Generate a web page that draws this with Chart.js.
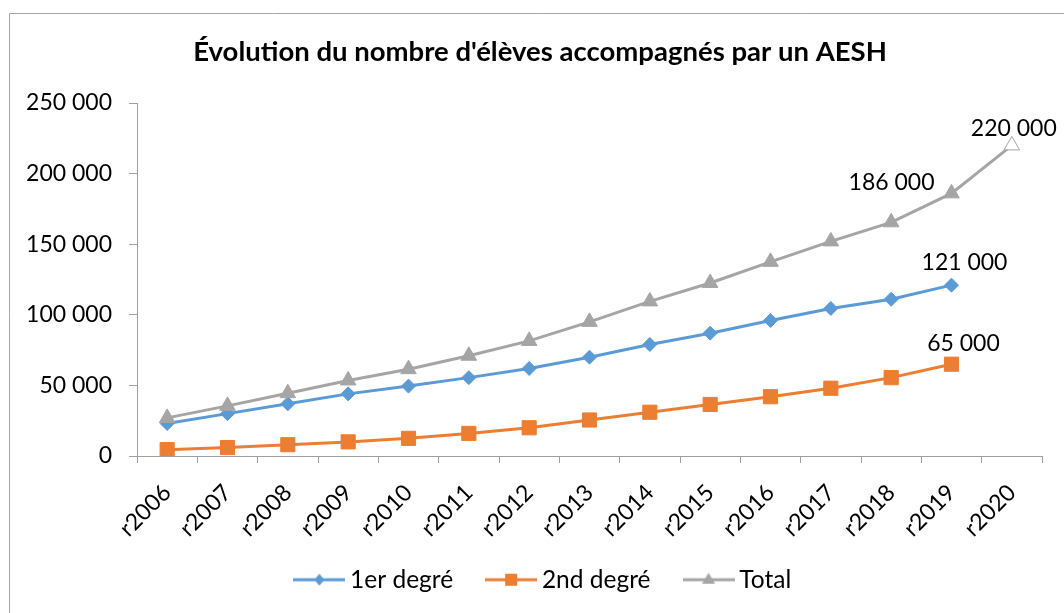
<!DOCTYPE html>
<html>
<head>
<meta charset="utf-8">
<title>Évolution du nombre d'élèves accompagnés par un AESH</title>
<script src="https://cdn.jsdelivr.net/npm/chart.js"></script>
<style>
    html, body { margin: 0; padding: 0; background: #fff; }
    #wrap { position: relative; width: 1064px; height: 613px; }
</style>
</head>
<body>
<div id="wrap"><canvas id="aeshChart" width="1064" height="613"></canvas></div>
<script>
// Data
const years = ['r2006', 'r2007', 'r2008', 'r2009', 'r2010', 'r2011', 'r2012', 'r2013',
               'r2014', 'r2015', 'r2016', 'r2017', 'r2018', 'r2019', 'r2020'];
const premierDegre = [23000, 30000, 37000, 44000, 49500, 55500, 62000, 70000,
                      79000, 87000, 96000, 104500, 111000, 121000, null];
const secondDegre = [4500, 6000, 8000, 10000, 12500, 16000, 20000, 25500,
                     31000, 36500, 42000, 48000, 55500, 65000, null];
const total = [27000, 35500, 44500, 53500, 61500, 71000, 81500, 95000,
               109500, 122500, 137500, 152000, 165500, 186000, 220000];
const yTicks = [0, 50000, 100000, 150000, 200000, 250000];

const BLUE = '#5B9BD5';
const ORANGE = '#ED7D31';
const GREY = '#A5A5A5';
const AXIS = '#A0A0A0';
const FONT = 'Lato, "Open Sans", sans-serif';

function fmt(v) {
    return String(v).replace(/\B(?=(\d{3})+(?!\d))/g, ' ');
}

// small canvas: line + marker, used as legend symbol
function legendIcon(color, shape) {
    const c = document.createElement('canvas');
    c.width = 52;
    c.height = 20;
    const ctx = c.getContext('2d');
    ctx.strokeStyle = color;
    ctx.fillStyle = color;
    ctx.lineWidth = 3;
    ctx.beginPath();
    ctx.moveTo(0, 10);
    ctx.lineTo(52, 10);
    ctx.stroke();
    ctx.beginPath();
    if (shape === 'diamond') {
        ctx.moveTo(26, 4); ctx.lineTo(31, 10); ctx.lineTo(26, 16); ctx.lineTo(21, 10);
    } else if (shape === 'square') {
        ctx.rect(20, 4, 12, 12);
    } else {
        ctx.moveTo(26, 3); ctx.lineTo(32.5, 14); ctx.lineTo(19.5, 14);
    }
    ctx.closePath();
    ctx.fill();
    return c;
}

// which points carry a value label, and where the text sits around the point
const pointLabels = [
    { dataset: 0, index: 13, dx: 13, dy: -23, align: 'center' },
    { dataset: 1, index: 13, dx: 12, dy: -21, align: 'center' },
    { dataset: 2, index: 13, dx: -17, dy: -11, align: 'right' },
    { dataset: 2, index: 14, dx: 2, dy: -17, align: 'center' }
];

const valueLabelPlugin = {
    id: 'valueLabels',
    afterDatasetsDraw(chart) {
        const ctx = chart.ctx;
        ctx.save();
        ctx.font = '23px ' + FONT;
        ctx.fillStyle = '#000';
        ctx.textBaseline = 'middle';
        pointLabels.forEach(function(l) {
            const pt = chart.getDatasetMeta(l.dataset).data[l.index];
            const value = chart.data.datasets[l.dataset].data[l.index];
            ctx.textAlign = l.align;
            ctx.fillText(fmt(value), pt.x + l.dx, pt.y + l.dy);
        });
        ctx.restore();
    }
};

// white background + the chart-area frame (only left and top edges are visible)
const framePlugin = {
    id: 'frame',
    afterLayout(chart) {
        // title and legend sit a bit right of the canvas centre in the original,
        // and the legend row overlaps the bottom of the rotated labels' box
        chart.titleBlock.left += 19;
        chart.titleBlock.right += 19;
        chart.legend.left += 25;
        chart.legend.right += 25;
        chart.legend.top -= 11;
        chart.legend.bottom -= 11;
    },
    beforeDraw(chart) {
        const ctx = chart.ctx;
        ctx.save();
        ctx.fillStyle = '#fff';
        ctx.fillRect(0, 0, chart.width, chart.height);
        ctx.strokeStyle = '#A6A6A6';
        ctx.lineWidth = 1;
        ctx.beginPath();
        ctx.moveTo(9.5, chart.height + 5);
        ctx.lineTo(9.5, 13.5);
        ctx.lineTo(chart.width + 5, 13.5);
        ctx.stroke();
        ctx.restore();
    }
};

function initializeChart() {
    const el = document.getElementById('aeshChart');
    const icons = [legendIcon(BLUE, 'diamond'), legendIcon(ORANGE, 'square'), legendIcon(GREY, 'triangle')];
    const lastTotal = total.length - 1;

    new Chart(el.getContext('2d'), {
        type: 'line',
        data: {
            labels: years,
            datasets: [
                {
                    label: '1er degré',
                    data: premierDegre,
                    borderColor: BLUE,
                    backgroundColor: BLUE,
                    borderWidth: 3,
                    pointStyle: 'rectRot',
                    pointRadius: 7,
                    pointBorderWidth: 1,
                    order: 2
                },
                {
                    label: '2nd degré',
                    data: secondDegre,
                    borderColor: ORANGE,
                    backgroundColor: ORANGE,
                    borderWidth: 3,
                    pointStyle: 'rect',
                    pointRadius: 10,
                    pointBorderWidth: 1,
                    order: 3
                },
                {
                    label: 'Total',
                    data: total,
                    borderColor: GREY,
                    backgroundColor: GREY,
                    borderWidth: 3,
                    pointStyle: 'triangle',
                    pointRadius: 9,
                    pointBorderWidth: 1,
                    pointBackgroundColor: total.map((v, i) => i === lastTotal ? '#fff' : GREY),
                    order: 1
                }
            ]
        },
        options: {
            responsive: false,
            animation: false,
            layout: {
                padding: { left: 0, right: 22, top: 0, bottom: 0 }
            },
            plugins: {
                title: {
                    display: true,
                    // U+200C keeps Lato from joining "ti" into a ligature
                    text: "Évolu\u200Ction du nombre d'élèves accompagnés par un AESH",
                    color: '#000',
                    font: { family: FONT, size: 27.5, weight: 'bold' },
                    padding: { top: 35.5, bottom: 34.5 }
                },
                legend: {
                    position: 'bottom',
                    labels: {
                        usePointStyle: true,
                        pointStyleWidth: 37,
                        padding: 39.5,
                        color: '#000',
                        font: { family: FONT, size: 24.5 },
                        generateLabels: function(chart) {
                            return chart.data.datasets.map(function(ds, i) {
                                return {
                                    text: ds.label,
                                    pointStyle: icons[i],
                                    fillStyle: ds.borderColor,
                                    strokeStyle: ds.borderColor,
                                    lineWidth: 0,
                                    hidden: false,
                                    datasetIndex: i
                                };
                            });
                        }
                    }
                },
                tooltip: { enabled: false }
            },
            scales: {
                x: {
                    offset: true,
                    afterFit: function(scale) { scale.height = 83; },
                    grid: {
                        offset: true,
                        drawOnChartArea: false,
                        color: AXIS,
                        tickLength: 7
                    },
                    border: { color: AXIS, width: 1 },
                    ticks: {
                        autoSkip: false,
                        minRotation: 45,
                        maxRotation: 45,
                        padding: 16,
                        color: '#000',
                        font: { family: FONT, size: 23 }
                    }
                },
                y: {
                    min: 0,
                    max: 250000,
                    afterFit: function(scale) { scale.width = 137; },
                    afterBuildTicks: function(scale) {
                        scale.ticks = yTicks.map(v => ({ value: v }));
                    },
                    grid: {
                        drawOnChartArea: false,
                        color: AXIS,
                        tickLength: 8
                    },
                    border: { color: AXIS, width: 1 },
                    ticks: {
                        padding: 17,
                        color: '#000',
                        font: { family: FONT, size: 23 },
                        callback: function(value) { return fmt(value); }
                    }
                }
            }
        },
        plugins: [framePlugin, valueLabelPlugin]
    });
}

document.addEventListener('DOMContentLoaded', function() {
    initializeChart();
});
</script>
</body>
</html>
